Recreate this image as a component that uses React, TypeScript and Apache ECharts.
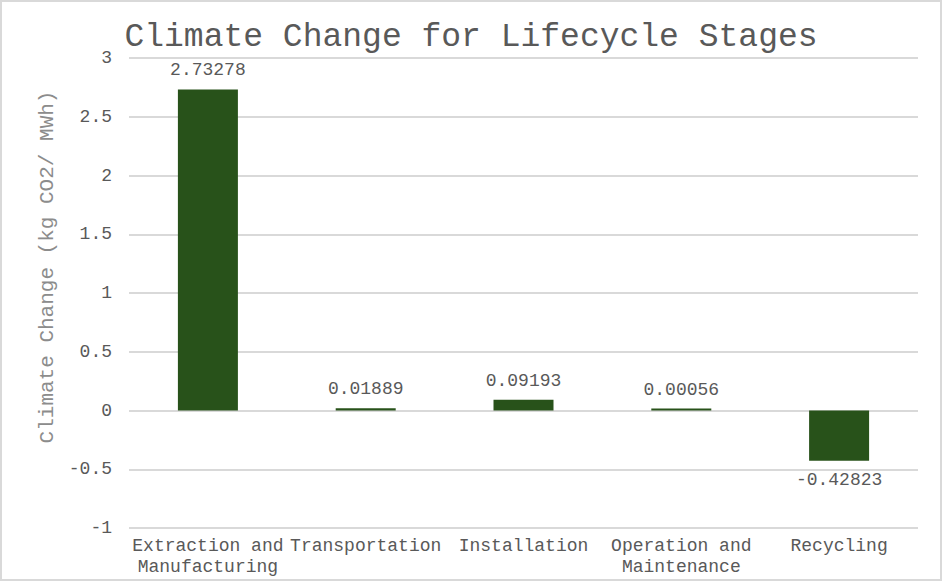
import React, { useEffect, useRef } from 'react'
import * as echarts from 'echarts'

const stages = [
  'Extraction and\nManufacturing',
  'Transportation',
  'Installation',
  'Operation and\nMaintenance',
  'Recycling'
]
const climateValues = [2.73278, 0.01889, 0.09193, 0.00056, -0.42823]
const valueLabels = ['2.73278', '0.01889', '0.09193', '0.00056', '-0.42823']

const FONT = '"Liberation Mono", "Courier New", monospace'
const TEXT_COLOR = '#595959'

const App: React.FC = () => {
  const chartRef = useRef<HTMLDivElement>(null)

  useEffect(() => {
    if (!chartRef.current) return
    const chart = echarts.init(chartRef.current, null, { renderer: 'svg' })

    const option = {
      animation: false,
      backgroundColor: '#ffffff',
      title: {
        text: 'Climate Change for Lifecycle Stages',
        left: 'center',
        top: 14,
        textStyle: {
          fontFamily: FONT,
          fontSize: 33,
          fontWeight: 'normal',
          color: TEXT_COLOR
        }
      },
      grid: {
        left: 127,
        right: 22,
        top: 56,
        bottom: 51
      },
      xAxis: {
        type: 'category',
        data: stages,
        axisLine: { show: false },
        axisTick: { show: false },
        axisLabel: {
          interval: 0,
          margin: 7,
          fontFamily: FONT,
          fontSize: 18,
          color: TEXT_COLOR,
          lineHeight: 21
        }
      },
      yAxis: {
        type: 'value',
        min: -1,
        max: 3,
        interval: 0.5,
        name: 'Climate Change (kg CO2/ MWh)',
        nameLocation: 'middle',
        nameGap: 66,
        nameTextStyle: {
          fontFamily: FONT,
          fontSize: 21,
          color: '#8c8c8c',
          padding: [0, 0, 0, 52]
        },
        axisLine: { show: false },
        axisTick: { show: false },
        axisLabel: {
          margin: 17,
          fontFamily: FONT,
          fontSize: 18,
          color: TEXT_COLOR
        },
        splitLine: { lineStyle: { color: '#d9d9d9', width: 2 } }
      },
      series: [
        {
          type: 'bar',
          barWidth: 60,
          barMinHeight: 2,
          itemStyle: { color: '#28521a' },
          label: {
            show: true,
            fontFamily: FONT,
            fontSize: 18,
            color: TEXT_COLOR,
            distance: 10,
            formatter: (p: any) => valueLabels[p.dataIndex]
          },
          data: climateValues.map((v) => ({
            value: v,
            label: { position: v < 0 ? 'bottom' : 'top' }
          }))
        }
      ]
    }

    chart.setOption(option)
    return () => chart.dispose()
  }, [])

  return (
    <div
      style={{
        position: 'absolute',
        left: 0,
        top: 0,
        width: 942,
        height: 581,
        boxSizing: 'border-box',
        border: '2px solid #d9d9d9'
      }}
    >
      <div ref={chartRef} style={{ width: '100%', height: '100%' }} />
    </div>
  )
}

export default App
